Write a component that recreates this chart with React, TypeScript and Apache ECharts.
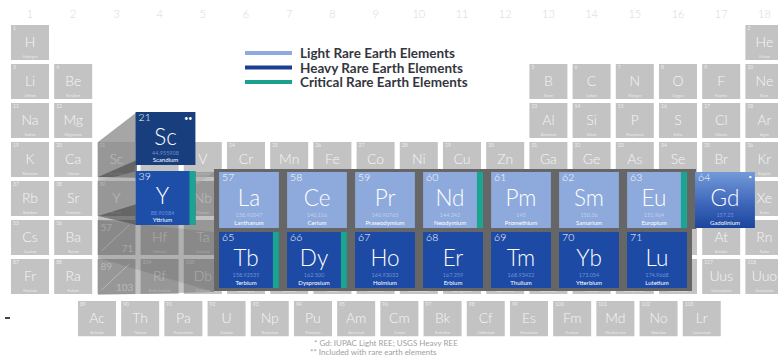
import React, { useEffect, useRef } from "react";
import * as echarts from "echarts";

// ---------- background periodic table (gray) ----------
type El = [string, number, string];
const PERIOD_1: El[] = [["H", 1, "Hydrogen"], ["He", 2, "Helium"]];
const PERIOD_1_COLS = [1, 18];
const PERIOD_2: El[] = [
  ["Li", 3, "Lithium"], ["Be", 4, "Beryllium"], ["B", 5, "Boron"], ["C", 6, "Carbon"],
  ["N", 7, "Nitrogen"], ["O", 8, "Oxygen"], ["F", 9, "Fluorine"], ["Ne", 10, "Neon"],
];
const PERIOD_3: El[] = [
  ["Na", 11, "Sodium"], ["Mg", 12, "Magnesium"], ["Al", 13, "Aluminium"], ["Si", 14, "Silicon"],
  ["P", 15, "Phosphorus"], ["S", 16, "Sulfur"], ["Cl", 17, "Chlorine"], ["Ar", 18, "Argon"],
];
const PERIOD_23_COLS = [1, 2, 13, 14, 15, 16, 17, 18];
const PERIOD_4: El[] = [
  ["K", 19, "Potassium"], ["Ca", 20, "Calcium"], ["Sc", 21, "Scandium"], ["Ti", 22, "Titanium"],
  ["V", 23, "Vanadium"], ["Cr", 24, "Chromium"], ["Mn", 25, "Manganese"], ["Fe", 26, "Iron"],
  ["Co", 27, "Cobalt"], ["Ni", 28, "Nickel"], ["Cu", 29, "Copper"], ["Zn", 30, "Zinc"],
  ["Ga", 31, "Gallium"], ["Ge", 32, "Germanium"], ["As", 33, "Arsenic"], ["Se", 34, "Selenium"],
  ["Br", 35, "Bromine"], ["Kr", 36, "Krypton"],
];
const PERIOD_5: El[] = [
  ["Rb", 37, "Rubidium"], ["Sr", 38, "Strontium"], ["Y", 39, "Yttrium"], ["Zr", 40, "Zirconium"],
  ["Nb", 41, "Niobium"], ["Mo", 42, "Molybdenum"], ["Tc", 43, "Technetium"], ["Ru", 44, "Ruthenium"],
  ["Rh", 45, "Rhodium"], ["Pd", 46, "Palladium"], ["Ag", 47, "Silver"], ["Cd", 48, "Cadmium"],
  ["In", 49, "Indium"], ["Sn", 50, "Tin"], ["Sb", 51, "Antimony"], ["Te", 52, "Tellurium"],
  ["I", 53, "Iodine"], ["Xe", 54, "Xenon"],
];
const PERIOD_6: El[] = [
  ["Cs", 55, "Caesium"], ["Ba", 56, "Barium"], ["57/71", 57, ""], ["Hf", 72, "Hafnium"],
  ["Ta", 73, "Tantalum"], ["W", 74, "Tungsten"], ["Re", 75, "Rhenium"], ["Os", 76, "Osmium"],
  ["Ir", 77, "Iridium"], ["Pt", 78, "Platinum"], ["Au", 79, "Gold"], ["Hg", 80, "Mercury"],
  ["Tl", 81, "Thallium"], ["Pb", 82, "Lead"], ["Bi", 83, "Bismuth"], ["Po", 84, "Polonium"],
  ["At", 85, "Astatine"], ["Rn", 86, "Radon"],
];
const PERIOD_7: El[] = [
  ["Fr", 87, "Francium"], ["Ra", 88, "Radium"], ["89/103", 89, ""], ["Rf", 104, "Rutherfordium"],
  ["Db", 105, "Dubnium"], ["Sg", 106, "Seaborgium"], ["Bh", 107, "Bohrium"], ["Hs", 108, "Hassium"],
  ["Mt", 109, "Meitnerium"], ["Ds", 110, "Darmstadtium"], ["Rg", 111, "Roentgenium"], ["Cn", 112, "Copernicium"],
  ["Uut", 113, "Ununtrium"], ["Fl", 114, "Flerovium"], ["Uup", 115, "Ununpentium"], ["Lv", 116, "Livermorium"],
  ["Uus", 117, "Ununseptium"], ["Uuo", 118, "Ununoctium"],
];
const ACTINIDES: El[] = [
  ["Ac", 89, "Actinium"], ["Th", 90, "Thorium"], ["Pa", 91, "Protactinium"], ["U", 92, "Uranium"],
  ["Np", 93, "Neptunium"], ["Pu", 94, "Plutonium"], ["Am", 95, "Americium"], ["Cm", 96, "Curium"],
  ["Bk", 97, "Berkelium"], ["Cf", 98, "Californium"], ["Es", 99, "Einsteinium"], ["Fm", 100, "Fermium"],
  ["Md", 101, "Mendelevium"], ["No", 102, "Nobelium"], ["Lr", 103, "Lawrencium"],
];
const ACTINIDE_ROW = 8.08;
const ACTINIDE_FIRST_COL = 2.55;
const GROUP_LABELS = ["1", "2", "3", "4", "5", "6", "7", "8", "9", "10", "11", "12", "13", "14", "15", "16", "17", "18"];
// gray cells fully hidden behind the rare-earth panel (their labels are not visible)
const HIDDEN_UNDER_PANEL = [
  "Ti", "Zr", "Mo", "Tc", "Ru", "Rh", "Pd", "Ag", "Cd", "In", "Sn", "Sb", "Te", "I",
  "W", "Re", "Os", "Ir", "Pt", "Au", "Hg", "Tl", "Pb", "Bi", "Po",
];
// period-4 cells whose bottom (name) is under the panel
const NAME_UNDER_PANEL = ["Cr", "Mn", "Fe", "Co", "Ni", "Cu", "Zn", "Ga", "Ge", "As", "Se", "Br"];
// period-7 cells of which only the bottom (name) shows below the panel
const ONLY_NAME_VISIBLE = ["Sg", "Bh", "Hs", "Mt", "Ds", "Rg", "Cn", "Uut", "Fl", "Uup", "Lv"];

// ---------- rare earth panel ----------
const LIGHT_REE = ["La", "Ce", "Pr", "Nd", "Pm", "Sm", "Eu", "Gd"];
const LIGHT_NUM = [57, 58, 59, 60, 61, 62, 63, 64];
const LIGHT_MASS = ["138.90547", "140.116", "140.90765", "144.242", "145", "150.36", "151.964", "157.25"];
const LIGHT_NAME = ["Lanthanum", "Cerium", "Praseodymium", "Neodymium", "Promethium", "Samarium", "Europium", "Gadolinium"];
const HEAVY_REE = ["Tb", "Dy", "Ho", "Er", "Tm", "Yb", "Lu"];
const HEAVY_NUM = [65, 66, 67, 68, 69, 70, 71];
const HEAVY_MASS = ["158.92535", "162.500", "164.93033", "167.259", "168.93422", "173.054", "174.9668"];
const HEAVY_NAME = ["Terbium", "Dysprosium", "Holmium", "Erbium", "Thulium", "Ytterbium", "Lutetium"];
const RELATED_REE = ["Sc", "Y"];
const RELATED_NUM = [21, 39];
const RELATED_MASS = ["44.955908", "88.90584"];
const RELATED_NAME = ["Scandium", "Yttrium"];
const RELATED_POS = [[-1.228, -1.025], [-1.228, -0.033]];
const CRITICAL = ["Y", "Nd", "Eu", "Tb", "Dy"];
const FOOTNOTE_ONE = ["Gd"];
const FOOTNOTE_TWO = ["Sc"];

const LEGEND_LABELS = ["Light Rare Earth Elements", "Heavy Rare Earth Elements", "Critical Rare Earth Elements"];
const FOOTNOTES = ["* Gd: IUPAC Light REE; USGS Heavy REE", "** Included with rare earth elements"];

// ---------- styles ----------
const FONT = "Lato, 'Open Sans', sans-serif";
const GRAY_FILL = "#c3c3c3";
const LIGHT_BLUE = "#8eaadc";
const HEAVY_BLUE = "#1d4aa5";
const SC_BLUE = "#183e7d";
const Y_BLUE = "#1d4ea8";
const TEAL = "#19a592";
const LEGEND_COLORS = ["#8eaadc", "#1a3f92", "#1ca08f"];

interface GrayCell { sym: string; num: number; name: string; col: number; row: number; }
const GRAY: GrayCell[] = [];
const addPeriod = (list: El[], cols: number[] | null, row: number) => {
  list.forEach((e, i) => GRAY.push({ sym: e[0], num: e[1], name: e[2], col: cols ? cols[i] : i + 1, row }));
};
addPeriod(PERIOD_1, PERIOD_1_COLS, 1);
addPeriod(PERIOD_2, PERIOD_23_COLS, 2);
addPeriod(PERIOD_3, PERIOD_23_COLS, 3);
addPeriod(PERIOD_4, null, 4);
addPeriod(PERIOD_5, null, 5);
addPeriod(PERIOD_6, null, 6);
addPeriod(PERIOD_7, null, 7);
ACTINIDES.forEach((e, i) => GRAY.push({ sym: e[0], num: e[1], name: e[2], col: ACTINIDE_FIRST_COL + i, row: ACTINIDE_ROW }));

interface PanelCell { sym: string; num: number; mass: string; name: string; kind: string; x: number; y: number; }
const PANEL: PanelCell[] = [];
RELATED_REE.forEach((s, i) => PANEL.push({ sym: s, num: RELATED_NUM[i], mass: RELATED_MASS[i], name: RELATED_NAME[i], kind: s === "Sc" ? "sc" : "y", x: RELATED_POS[i][0], y: RELATED_POS[i][1] }));
LIGHT_REE.forEach((s, i) => PANEL.push({ sym: s, num: LIGHT_NUM[i], mass: LIGHT_MASS[i], name: LIGHT_NAME[i], kind: s === "Gd" ? "gd" : "light", x: i, y: 0 }));
HEAVY_REE.forEach((s, i) => PANEL.push({ sym: s, num: HEAVY_NUM[i], mass: HEAVY_MASS[i], name: HEAVY_NAME[i], kind: "heavy", x: i, y: 1 }));

const txt = (x: number, y: number, text: string, size: number, fill: string, align = "center", va = "middle", weight: any = "normal", lh?: number) => ({
  type: "text", x, y,
  style: { text, fontSize: size, lineHeight: lh ?? size, fontFamily: FONT, fontWeight: weight, fill, align, verticalAlign: va },
});

function renderGray(params: any, api: any) {
  const el = GRAY[params.dataIndex];
  const c = api.coord([api.value(0), api.value(1)]);
  const s = api.size([1, 1]);
  const w = s[0] * 0.88;
  const h = s[1] * 0.9;
  const x = c[0] - w / 2;
  const y = c[1] - h / 2;
  const children: any[] = [{ type: "rect", shape: { x, y, width: w, height: h }, style: { fill: GRAY_FILL } }];
  const inMain = el.row >= 4 && el.row <= 7;
  const hidden = inMain && HIDDEN_UNDER_PANEL.indexOf(el.sym) >= 0;
  const showTop = !(inMain && ONLY_NAME_VISIBLE.indexOf(el.sym) >= 0);
  const showName = !(inMain && NAME_UNDER_PANEL.indexOf(el.sym) >= 0);
  if (hidden) {
    // covered by the panel: no labels
  } else if (el.sym.indexOf("/") > 0) {
    const [a, b] = el.sym.split("/");
    children.push(
      txt(x + 3, y + 2, a, 10, "#eeeeee", "left", "top"),
      { type: "line", shape: { x1: x + 4, y1: y + h - 4, x2: x + w - 6, y2: y + 5 }, style: { stroke: "#eeeeee", lineWidth: 1 } },
      txt(x + w - 2, y + h - 2, b, 10, "#eeeeee", "right", "bottom")
    );
  } else {
    if (showTop) {
      children.push(
        txt(x + 2, y + 0.3, String(el.num), 5, "#ededed", "left", "top"),
        txt(c[0], c[1] - 1, el.sym, 14, "#f6f6f6", "center", "middle", 300, 11)
      );
    }
    if (showName) children.push(txt(c[0], y + h - 3.4, el.name, 3.4, "#ececec"));
  }
  return { type: "group", children };
}

function renderPanel(params: any, api: any) {
  const el = PANEL[params.dataIndex];
  const c = api.coord([api.value(0), api.value(1)]);
  const s = api.size([1, 1]);
  const w = s[0] * 0.88;
  const h = el.kind === "sc" ? s[1] * 0.885 : el.kind === "y" ? s[1] * 0.9 : s[1] * 0.935;
  const x = c[0] - w / 2;
  const y = c[1] - h / 2;
  let fill: any = LIGHT_BLUE;
  if (el.kind === "heavy") fill = HEAVY_BLUE;
  if (el.kind === "sc") fill = SC_BLUE;
  if (el.kind === "y") fill = Y_BLUE;
  if (el.kind === "gd")
    fill = new echarts.graphic.LinearGradient(0, 0, 0, 1, [
      { offset: 0, color: "#739ad8" },
      { offset: 0.55, color: "#3f68bb" },
      { offset: 1, color: "#1b449e" },
    ]);
  const light = el.kind === "light";
  const critical = CRITICAL.indexOf(el.sym) >= 0;
  const children: any[] = [{ type: "rect", shape: { x, y, width: w, height: h }, style: { fill } }];
  if (critical) {
    children.push({ type: "rect", shape: { x: x + w - 6, y, width: 6, height: h }, style: { fill: TEAL } });
  }
  const cx = x + (w - (critical ? 6 : 0)) / 2;
  children.push(
    txt(x + 3, y + 0.2, String(el.num), 10.5, "#ffffff", "left", "top", 300, 10),
    txt(cx, y + h * 0.458, el.sym, 22.5, "#ffffff", "center", "middle", 300, 18),
    txt(cx, y + h * 0.77, el.mass, 5.5, light ? "rgba(255,255,255,0.45)" : "rgba(140,170,230,0.75)", "center", "middle", "normal", 5),
    txt(cx, y + h * 0.9, el.name, 6, "#ffffff", "center", "middle", "normal", 6)
  );
  if (FOOTNOTE_TWO.indexOf(el.sym) >= 0) children.push(txt(x + w - 3, y + 3, "••", 7, "#ffffff", "right", "top"));
  if (FOOTNOTE_ONE.indexOf(el.sym) >= 0) children.push(txt(x + w - 3, y + 2, "•", 6, "#ffffff", "right", "top"));
  return { type: "group", children };
}

const overlay = (points: number[][], fill: string, z = 3) => ({ type: "polygon", z, silent: true, shape: { points }, style: { fill } });

const option: any = {
  animation: false,
  backgroundColor: "#ffffff",
  grid: [
    { left: 30, right: 13.6, top: 42.5, bottom: 80.5 },
    { left: 249, right: 53, top: 140, bottom: 97 },
  ],
  xAxis: [
    {
      type: "value", gridIndex: 0, position: "top", min: 1, max: 18, interval: 1,
      axisLine: { show: false }, axisTick: { show: false }, splitLine: { show: false },
      axisLabel: { margin: 24, fontSize: 11, fontFamily: FONT, fontWeight: 300, color: "#d9d9d9", formatter: (v: number) => GROUP_LABELS[Math.round(v) - 1] || "" },
    },
    { type: "value", gridIndex: 1, min: 0, max: 7, show: false },
  ],
  yAxis: [
    { type: "value", gridIndex: 0, min: 1, max: 7, inverse: true, show: false },
    { type: "value", gridIndex: 1, min: -1, max: 1, inverse: true, show: false },
  ],
  graphic: [
    // zoom-projection shading from column 3 to the rare earth panel
    overlay([[98, 142], [137, 142], [137, 172], [214, 172], [214, 292], [98, 295]], "rgba(40,40,40,0.28)"),
    overlay([[98, 142], [137, 112], [137, 142]], "rgba(150,150,150,0.85)"),
    overlay([[98, 177], [137, 160], [137, 178]], "rgba(40,40,40,0.45)"),
    overlay([[98, 181], [137, 171], [137, 181]], "rgba(170,170,170,0.45)"),
    overlay([[98, 216], [137, 204], [137, 225]], "rgba(40,40,40,0.45)"),
    overlay([[195, 172], [214, 172], [195, 186]], "rgba(170,170,170,0.45)"),
    overlay([[98, 220], [214, 232], [214, 292], [98, 258]], "rgba(40,40,40,0.12)"),
    // dark backing behind the panel
    { type: "rect", z: 4, silent: true, shape: { x: 214, y: 169, width: 478, height: 122 }, style: { fill: "#666666" } },
    { type: "rect", z: 4, silent: true, shape: { x: 688, y: 169, width: 8, height: 60 }, style: { fill: "#666666" } },
    // legend
    ...LEGEND_LABELS.flatMap((label, i) => [
      { type: "rect", z: 6, shape: { x: 245, y: 51 + i * 14.5, width: 47, height: 4 }, style: { fill: LEGEND_COLORS[i] } },
      { type: "text", z: 6, x: 300, y: 53 + i * 14.5, style: { text: label, fontSize: 13.5, lineHeight: 13, fontWeight: "bold", fontFamily: FONT, fill: "#333640", verticalAlign: "middle" } },
    ]),
    // footnotes
    ...FOOTNOTES.map((t, i) => ({ type: "text", z: 6, x: i === 0 ? 314 : 310, y: 342.5 + i * 9.6, style: { text: t, fontSize: 8, lineHeight: 8, fontFamily: FONT, fill: "#a0a0a0", verticalAlign: "middle" } })),
    { type: "rect", z: 6, shape: { x: 5, y: 317, width: 5, height: 2 }, style: { fill: "#444444" } },
  ],
  series: [
    {
      type: "custom", name: "Periodic table", xAxisIndex: 0, yAxisIndex: 0, z: 1, silent: true,
      renderItem: renderGray, data: GRAY.map((g) => [g.col, g.row]),
    },
    {
      type: "custom", name: "Rare earth elements", xAxisIndex: 1, yAxisIndex: 1, z: 8, silent: true,
      renderItem: renderPanel, data: PANEL.map((p) => [p.x, p.y]),
    },
  ],
};

export default function App() {
  const ref = useRef<HTMLDivElement>(null);
  useEffect(() => {
    const chart = echarts.init(ref.current!, null, { renderer: "svg" });
    chart.setOption(option);
    return () => chart.dispose();
  }, []);
  return <div ref={ref} style={{ position: "absolute", left: 0, top: 0, width: 778, height: 357 }} />;
}
